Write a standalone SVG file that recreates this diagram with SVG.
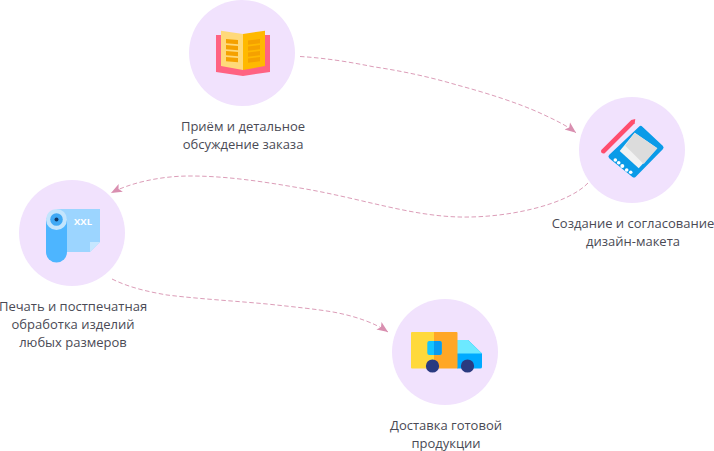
<svg xmlns="http://www.w3.org/2000/svg" width="714" height="451" viewBox="0 0 714 451">
<style>
.bg{fill:#f1e2fd}
.t{font-family:"Open Sans","Noto Sans",sans-serif;font-size:13px;fill:#4a4a55;text-anchor:middle}
.c{fill:none;stroke:#dc9db8;stroke-width:1;stroke-dasharray:4.500 2.500}
</style>
<defs>
<marker id="a" markerWidth="12" markerHeight="11" refX="11" refY="5.500" orient="auto" markerUnits="userSpaceOnUse">
<path d="M0 1L11 5.500L0 10L2.500 5.500Z" fill="#d98fb0"/>
</marker>
</defs>
<g id="connectors">
<path class="c" marker-end="url(#a)" d="M300 56.500C325 58 350 62 373 66.700C402 71 430 77 457 85C487 93 518 103 540 113C553 119 566 125 576 132.700"/>
<path class="c" marker-end="url(#a)" d="M588 183C568 204 510 218 460 217C410 216 360 198 300 188C260 181 225 176 190 176C160 176 130 183 111 193"/>
<path class="c" marker-end="url(#a)" d="M112 279C130 288 150 292 167 295C200 299 235 301 267 304C295 307 315 309 333 312C355 316 375 323 388 332"/>
</g>
<g id="node-order">
<circle class="bg" cx="242" cy="53" r="53"/>
<path d="M216 35H270V72L243 76L216 72Z" fill="#ff6382"/>
<path d="M221 30.700L243 34V70L221 66Z" fill="#ffd97a"/>
<path d="M265 30.700L243 34V70L265 66Z" fill="#ffb900"/>
<g fill="#f5a100">
<path d="M226 39L238 40V44.300L226 43.300ZM226 45L238 46V50.300L226 49.300ZM226 51L238 52V56.300L226 55.300ZM226 57L238 58V62.300L226 61.300Z"/>
<path d="M260 39L248 40.500V44.800L260 43.300ZM260 45L248 46.500V50.800L260 49.300ZM260 51L248 52.500V56.800L260 55.300ZM260 57L248 58.500V62.800L260 61.300Z"/>
</g>
<text class="t" x="243" y="131">Приём и детальное</text>
<text class="t" x="243" y="149">обсуждение заказа</text>
</g>
<g id="node-design">
<circle class="bg" cx="632" cy="150" r="53"/>
<path d="M601.300 150L631.300 120L635.300 119L634.700 123.300L604.700 153.300Q603 154 601.500 152.800Q600.500 151 601.300 150Z" fill="#ff4d6d"/>
<path d="M640.700 128.500L661 147.500L634 175L611 156.500Z" fill="#0a9be8" stroke="#0a9be8" stroke-width="5" stroke-linejoin="round"/>
<path d="M634.700 132.700L657.300 148.300L638.700 168.300L619.700 151Z" fill="#f2f2f2"/>
<path d="M634.700 132.700L657.300 148.300L643.700 164L625.300 145.700Z" fill="#dcdcdc"/>
<g fill="#fff">
<circle cx="615.300" cy="160" r="1.800"/><circle cx="618.700" cy="162.700" r="1.800"/><circle cx="622.300" cy="166" r="2"/><circle cx="626.700" cy="170" r="1.800"/><circle cx="630.700" cy="172.300" r="1.800"/>
</g>
<text class="t" x="633" y="228">Создание и согласование</text>
<text class="t" x="633" y="246">дизайн-макета</text>
</g>
<g id="node-print">
<circle class="bg" cx="72" cy="233" r="53"/>
<path d="M57 209H100V242L90 252H57Z" fill="#9cd5ff"/>
<path d="M90 252V242H100Z" fill="#c6e7ff"/>
<path d="M46 222A10.500 10.500 0 0 1 67 222V252A10.500 10.500 0 0 1 46 252Z" fill="#4db5ff"/>
<circle cx="56.500" cy="219.500" r="10.500" fill="#c3e5fd"/>
<circle cx="56.500" cy="219.500" r="6.300" fill="#3fa9f5"/>
<circle cx="56.500" cy="219.500" r="2" fill="#123a66"/>
<text x="83" y="225" font-family="'Open Sans','Noto Sans',sans-serif" font-size="9.500" font-weight="700" fill="#fff" text-anchor="middle">XXL</text>
<text class="t" x="73" y="311">Печать и постпечатная</text>
<text class="t" x="73" y="329">обработка изделий</text>
<text class="t" x="73" y="347">любых размеров</text>
</g>
<g id="node-delivery">
<circle class="bg" cx="445" cy="352" r="53"/>
<path d="M457 340H468L482 353.500V367Q482 368.500 480 368.500H457Z" fill="#00aaff"/>
<path d="M457 340H468L482 353.500H457Z" fill="#6ce9ff"/>
<path d="M412 332H434V368.500H412Q411 368.500 411 367.500V333Q411 332 412 332Z" fill="#ffd93b"/>
<path d="M434 332H456.500Q457.500 332 457.500 333V367.500Q457.500 368.500 456.500 368.500H434Z" fill="#ffa726"/>
<rect x="427.300" y="341" width="14.400" height="14" rx="2" fill="#12c5ff"/>
<path d="M434 341H439.700Q441.700 341 441.700 343V353Q441.700 355 439.700 355H434Z" fill="#0a9bf0"/>
<circle cx="432.500" cy="366" r="6.600" fill="#2a3a80"/>
<circle cx="467.500" cy="366" r="6.600" fill="#2a3a80"/>
<text class="t" x="446" y="430">Доставка готовой</text>
<text class="t" x="446" y="448">продукции</text>
</g>
</svg>
